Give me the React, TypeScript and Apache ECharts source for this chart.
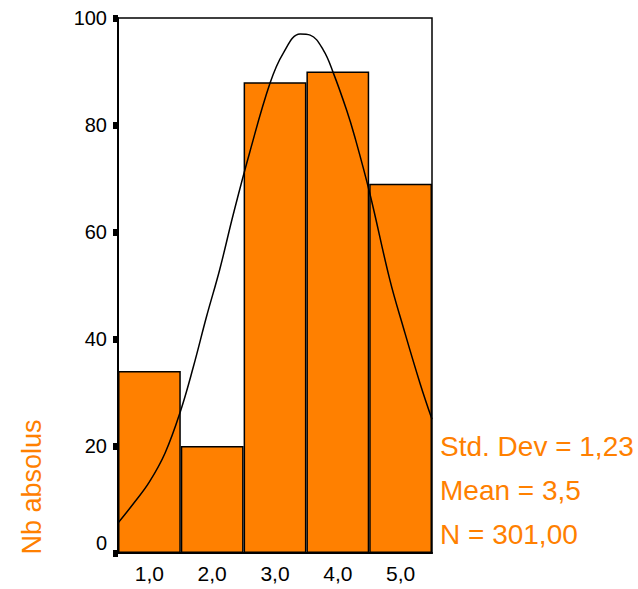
import React, { useEffect, useRef } from "react";
import * as echarts from "echarts";

const categories = ["1,0", "2,0", "3,0", "4,0", "5,0"];
const counts = [34, 20, 88, 90, 69];
const yTicks = { min: 0, max: 100, interval: 20 };
const curveX = [0.5, 0.75, 1.0, 1.25, 1.5, 1.7, 1.91, 2.12, 2.34, 2.6, 2.92, 3.13, 3.4, 3.56, 3.77, 3.93, 4.14, 4.27, 4.51, 4.83, 5.04, 5.31, 5.5];
const curveY = [5.6, 9.3, 13.3, 18.7, 26.7, 34.8, 44.2, 53.0, 63.5, 75.0, 87.8, 93.4, 97.0, 96.8, 94.0, 89.7, 82.8, 77.8, 67.2, 51.0, 42.3, 31.7, 25.0];
const statLines = ["Std. Dev = 1,23", "Mean = 3,5", "N = 301,00"];
const yName = "Nb absolus";

const ORANGE = "#FF8000";
const FONT = "'Liberation Sans', Arial, sans-serif";

export default function App() {
  const ref = useRef<HTMLDivElement>(null);
  useEffect(() => {
    if (!ref.current) return;
    const chart = echarts.init(ref.current, null, { renderer: "svg" });
    const curve = curveX.map((x, i) => [x, curveY[i]]);
    chart.setOption({
      animation: false,
      backgroundColor: "#fff",
      textStyle: { fontFamily: FONT },
      grid: {
        left: 118,
        top: 18,
        right: 206,
        bottom: 36,
        show: true,
        borderColor: "#000",
        borderWidth: 1.5,
        backgroundColor: "#fff",
      },
      xAxis: [
        {
          type: "category",
          data: categories,
          boundaryGap: true,
          axisLine: { lineStyle: { color: "#000", width: 2 } },
          axisTick: { alignWithLabel: true, length: 5, lineStyle: { color: "#000", width: 7 } },
          axisLabel: { color: "#000", fontSize: 21, margin: 10, fontFamily: FONT },
          splitLine: { show: false },
        },
        {
          type: "value",
          min: 0.5,
          max: 5.5,
          show: false,
          splitLine: { show: false },
        },
      ],
      yAxis: {
        type: "value",
        min: yTicks.min,
        max: yTicks.max,
        interval: yTicks.interval,
        axisLine: { show: true, lineStyle: { color: "#000", width: 2 } },
        axisTick: { show: true, length: 5, lineStyle: { color: "#000", width: 7 } },
        axisLabel: {
          color: "#000",
          fontSize: 20,
          margin: 11,
          fontFamily: FONT,
          formatter: (v: number) => (v === 0 ? "{z|0}" : String(v)),
          rich: { z: { fontSize: 20, color: "#000", fontFamily: FONT, padding: [0, 0, 20, 0] } },
        },
        splitLine: { show: false },
      },
      series: [
        {
          type: "bar",
          data: counts,
          xAxisIndex: 0,
          barWidth: "100%",
          itemStyle: { color: ORANGE, borderColor: "#000", borderWidth: 1.5 },
        },
        {
          type: "line",
          data: curve,
          xAxisIndex: 1,
          smooth: 0.4,
          symbol: "none",
          lineStyle: { color: "#000", width: 1.5 },
          z: 3,
        },
      ],
      graphic: [
        {
          type: "text",
          x: 32,
          y: 487,
          rotation: Math.PI / 2,
          style: {
            text: yName,
            fill: ORANGE,
            font: `27px ${FONT}`,
            align: "center",
            verticalAlign: "middle",
          },
        },
        ...statLines.map((t, i) => ({
          type: "text",
          x: 440,
          y: 446 + i * 44,
          style: {
            text: t,
            fill: ORANGE,
            font: `28px ${FONT}`,
            align: "left",
            verticalAlign: "middle",
          },
        })),
      ],
    });
    return () => chart.dispose();
  }, []);
  return (
    <div
      ref={ref}
      style={{ position: "fixed", left: 0, top: 0, width: 638, height: 589 }}
    />
  );
}
